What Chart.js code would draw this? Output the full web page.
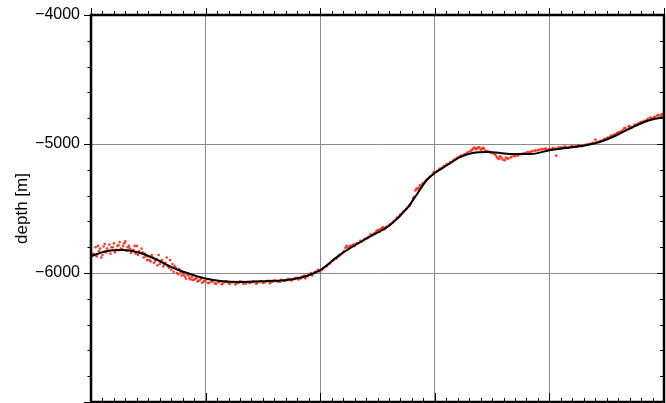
<!DOCTYPE html>
<html><head><meta charset="utf-8">
<script src="https://cdn.jsdelivr.net/npm/chart.js@4/dist/chart.umd.min.js"></script>
<style>html,body{margin:0;padding:0;background:#fff;}#wrap{width:666px;height:403px;}</style>
</head><body><div id="wrap"><canvas id="c" width="666" height="403"></canvas></div>
<script>
// Smoothed profile (black line): distance (grid units) and depth [m]
const profileX = [0.00,0.14,0.28,0.43,0.58,0.72,0.84,0.98,1.13,1.30,1.54,1.71,1.88,2.00,2.17,2.41,2.61,2.76,2.84,2.93,3.00,3.11,3.22,3.33,3.46,3.57,3.68,3.83,4.01,4.15,4.33,4.44,4.59,4.73,4.88,5.00];
const profileDepth = [-5870,-5829,-5822,-5845,-5899,-5961,-6000,-6039,-6062,-6070,-6062,-6054,-6023,-5977,-5860,-5729,-5628,-5496,-5395,-5279,-5225,-5163,-5101,-5070,-5062,-5070,-5078,-5078,-5047,-5031,-5008,-4984,-4930,-4868,-4814,-4791];

// Soundings (red dots)
const soundingX = [
0.00,0.02,0.04,0.05,0.07,0.08,0.10,0.11,0.13,0.14,0.16,0.17,0.19,0.20,0.22,0.23,0.25,0.26,0.28,0.29,0.31,0.32,0.34,0.35,0.37,0.39,0.40,0.42,0.44,0.46,0.47,0.49,0.50,0.52,0.54,0.55,0.57,0.59,0.60,0.62,0.63,0.65,0.66,0.68,0.69,0.71,0.72,0.74,0.76,0.77,0.79,0.80,0.82,0.84,0.86,0.88,0.90,0.92,0.94,0.96,0.98,
1.00,1.03,1.06,1.09,1.12,1.15,1.18,1.21,1.24,1.27,1.30,1.33,1.36,1.39,1.42,1.45,1.48,1.51,1.54,1.57,1.60,1.63,1.66,1.69,1.72,1.75,1.78,1.81,1.84,1.87,1.90,1.93,1.96,
2.00,2.03,2.06,2.09,2.12,2.15,2.18,2.21,2.23,2.25,2.27,2.29,2.31,2.33,2.36,2.39,2.42,2.45,2.48,2.50,2.52,2.54,2.56,2.58,2.61,2.64,2.67,2.70,2.73,2.76,2.79,2.81,2.83,2.84,2.86,2.88,2.90,2.93,2.96,2.99,
3.02,3.05,3.08,3.11,3.14,3.17,3.20,3.23,3.26,3.29,3.32,3.34,3.36,3.38,3.40,3.42,3.44,3.47,3.50,3.53,3.55,3.57,3.59,3.62,3.64,3.67,3.70,3.73,3.76,3.79,3.82,3.85,3.88,3.91,3.94,3.97,4.00,
4.03,4.06,4.08,4.11,4.14,4.17,4.20,4.23,4.26,4.29,4.32,4.35,4.38,4.40,4.42,4.45,4.48,4.51,4.54,4.57,4.60,4.63,4.65,4.67,4.70,4.72,4.75,4.78,4.80,4.83,4.86,4.89,4.92,4.95,4.98,5.00,
0.01,0.06,0.09,0.12,0.15,0.18,0.21,0.24,0.27,0.30,0.33,0.36,0.38,0.41,0.45,0.48,0.51,0.53,0.56,0.58,0.61,0.64,0.67,0.70,0.73,0.75,0.78,0.81,0.83,0.85,0.87,0.89,0.91,0.93,0.95,0.97,0.99,
1.02,1.05,1.08,1.11,1.14,1.17,1.20,1.23,1.26,1.29,1.32,1.35,1.38,1.41,1.44,1.47,1.50,1.53,1.56,1.59,1.62,1.65,1.68,1.71,1.74,1.77,1.80,1.83,1.86,1.89,1.92,1.95,1.98,
2.02,2.05,2.08,2.11,2.14,2.17,2.20,2.22,2.24,2.26,2.28,2.30,2.32,2.35,2.38,2.41,2.44,2.47,2.49,2.51,2.53,2.55,2.57,2.60,2.63,2.66,2.69,2.72,2.75,2.78,2.82,2.85,2.87,2.89,2.92,2.95,2.98,
3.01,3.04,3.07,3.10,3.13,3.16,3.19,3.22,3.25,3.28,3.31,3.33,3.35,3.37,3.39,3.41,3.43,3.46,3.49,3.52,3.54,3.56,3.58,3.61,3.63,3.66,3.69,3.72,3.75,3.78,3.81,3.84,3.87,3.90,3.93,3.96,3.99,
4.02,4.05,4.10,4.13,4.16,4.19,4.22,4.25,4.28,4.31,4.34,4.37,4.41,4.44,4.47,4.50,4.53,4.56,4.59,4.62,4.64,4.66,4.69,4.71,4.74,4.77,4.79,4.82,4.85,4.88,4.91,4.94,4.97,4.99];
const soundingDepth = [
-5820,-5850,-5800,-5870,-5830,-5810,-5860,-5795,-5840,-5810,-5780,-5850,-5800,-5770,-5820,-5790,-5760,-5810,-5790,-5770,-5830,-5800,-5810,-5845,-5820,-5850,-5790,-5830,-5810,-5880,-5850,-5900,-5870,-5910,-5880,-5920,-5890,-5860,-5930,-5900,-5950,-5920,-5880,-5960,-5900,-5930,-5990,-5960,-6010,-5970,-6020,-6000,-6030,-6010,-6040,-6030,-6050,-6040,-6060,-6045,-6070,
-6060,-6075,-6065,-6085,-6070,-6080,-6065,-6085,-6070,-6080,-6065,-6085,-6070,-6078,-6065,-6080,-6062,-6075,-6060,-6072,-6058,-6068,-6052,-6062,-6045,-6058,-6040,-6050,-6030,-6040,-6010,-6020,-5990,
-5990,-5960,-5945,-5920,-5895,-5880,-5855,-5830,-5790,-5810,-5795,-5780,-5775,-5770,-5760,-5735,-5720,-5710,-5690,-5670,-5680,-5650,-5660,-5640,-5620,-5600,-5570,-5545,-5520,-5495,-5465,-5420,-5360,-5345,-5340,-5330,-5300,-5275,-5250,-5220,
-5210,-5190,-5170,-5155,-5140,-5120,-5105,-5090,-5080,-5065,-5050,-5030,-5040,-5025,-5045,-5030,-5050,-5060,-5070,-5085,-5110,-5095,-5120,-5105,-5115,-5100,-5095,-5085,-5075,-5070,-5065,-5055,-5050,-5045,-5040,-5035,-5040,
-5030,-5090,-5025,-5030,-5020,-5025,-5015,-5020,-5010,-5015,-5005,-5000,-4990,-4965,-4985,-4975,-4960,-4950,-4935,-4925,-4910,-4900,-4880,-4890,-4860,-4870,-4850,-4840,-4830,-4820,-4805,-4800,-4790,-4775,-4770,-4760,
-5860,-5790,-5880,-5775,-5830,-5800,-5840,-5785,-5815,-5755,-5790,-5825,-5790,-5860,-5840,-5870,-5900,-5860,-5905,-5940,-5915,-5935,-5945,-5975,-5945,-6000,-5990,-6015,-6045,-6020,-6050,-6055,-6045,-6065,-6055,-6075,-6060,
-6078,-6068,-6080,-6072,-6088,-6070,-6078,-6072,-6088,-6075,-6068,-6082,-6075,-6070,-6082,-6068,-6078,-6065,-6080,-6068,-6062,-6070,-6058,-6055,-6050,-6048,-6038,-6042,-6020,-6025,-6000,-5995,-5975,
-5975,-5950,-5930,-5905,-5890,-5865,-5840,-5805,-5800,-5790,-5785,-5790,-5770,-5750,-5745,-5730,-5700,-5695,-5675,-5665,-5660,-5645,-5650,-5630,-5610,-5585,-5560,-5530,-5505,-5480,-5410,-5350,-5320,-5310,-5285,-5260,-5235,
-5215,-5195,-5180,-5160,-5145,-5130,-5110,-5095,-5085,-5070,-5055,-5040,-5030,-5035,-5028,-5040,-5035,-5055,-5065,-5078,-5100,-5115,-5105,-5125,-5110,-5105,-5090,-5090,-5080,-5072,-5062,-5060,-5052,-5048,-5042,-5038,-5045,
-5042,-5035,-5028,-5022,-5028,-5018,-5022,-5012,-5018,-5008,-5002,-4995,-4985,-4980,-4970,-4955,-4945,-4930,-4915,-4905,-4895,-4875,-4865,-4875,-4855,-4845,-4835,-4825,-4815,-4795,-4795,-4780,-4780,-4770];

const xRange = [0, 5];
const depthRange = [-7000, -4000];
const depthLabels = [-4000, -5000, -6000];

const framePlugin = {
  id: 'frame',
  afterDatasetsDraw(chart) {
    const {ctx, chartArea: a, scales: {x, y}} = chart;
    ctx.save();
    ctx.strokeStyle = '#000';
    ctx.lineWidth = 1;
    const seg = (x1, y1, x2, y2) => { ctx.beginPath(); ctx.moveTo(x1, y1); ctx.lineTo(x2, y2); ctx.stroke(); };
    for (let i = 0; i <= 50; i++) {
      const px = Math.round(x.getPixelForValue(xRange[0] + i / 10)) + 0.5;
      const major = i % 10 === 0;
      seg(px, a.top, px, a.top - (major ? 7 : 4));
      seg(px, a.bottom, px, a.bottom - (major ? 9 : 4));
    }
    for (let d = depthRange[0]; d <= depthRange[1]; d += 200) {
      const py = Math.round(y.getPixelForValue(d)) + 0.5;
      const major = d % 1000 === 0;
      seg(a.left, py, a.left - (major ? 7 : 3.5), py);
      seg(a.right, py, a.right - (major ? 7 : 4), py);
    }
    ctx.lineWidth = 2.5;
    ctx.strokeRect(a.left, a.top, a.right - a.left, a.bottom - a.top);
    ctx.restore();
  }
};

new Chart(document.getElementById('c'), {
  type: 'scatter',
  data: {
    datasets: [
      {
        label: 'profile',
        data: profileX.map((v, i) => ({x: v, y: profileDepth[i]})),
        showLine: true,
        borderColor: '#000',
        borderWidth: 2,
        pointRadius: 0,
        pointHoverRadius: 0,
        cubicInterpolationMode: 'monotone',
        order: 0
      },
      {
        label: 'soundings',
        data: soundingX.map((v, i) => ({x: v, y: soundingDepth[i]})),
        showLine: false,
        pointRadius: 1.3,
        pointHoverRadius: 1.3,
        pointBorderWidth: 0,
        backgroundColor: 'rgba(255,45,25,0.95)',
        borderColor: 'rgba(255,45,25,0.95)',
        order: 1
      }
    ]
  },
  options: {
    responsive: false,
    devicePixelRatio: 1,
    animation: false,
    events: [],
    layout: {autoPadding: false, padding: {left: 0, right: 2, top: 15, bottom: 1}},
    plugins: {legend: {display: false}, tooltip: {enabled: false}},
    scales: {
      x: {
        type: 'linear', min: xRange[0], max: xRange[1],
        ticks: {display: false, stepSize: 1},
        grid: {color: '#8a8a8a', lineWidth: 1, drawTicks: false},
        border: {display: false},
        afterFit: s => { s.height = 0; s.paddingLeft = 0; s.paddingRight = 0; s.paddingTop = 0; s.paddingBottom = 0; }
      },
      y: {
        type: 'linear', min: depthRange[0], max: depthRange[1],
        ticks: {
          stepSize: 1000, padding: 11, color: '#000',
          font: {family: 'Liberation Sans', size: 16},
          callback: v => depthLabels.includes(v) ? String(v).replace('-', '\u2212') : ''
        },
        grid: {color: '#8a8a8a', lineWidth: 1, drawTicks: false},
        border: {display: false},
        title: {display: true, text: 'depth [m]', color: '#000', font: {family: 'Liberation Sans', size: 17}, padding: {top: 12, bottom: 0}},
        afterFit: s => { s.width = 91; s.paddingTop = 0; s.paddingBottom = 0; s.paddingLeft = 0; s.paddingRight = 0; }
      }
    }
  },
  plugins: [framePlugin]
});
</script></body></html>
